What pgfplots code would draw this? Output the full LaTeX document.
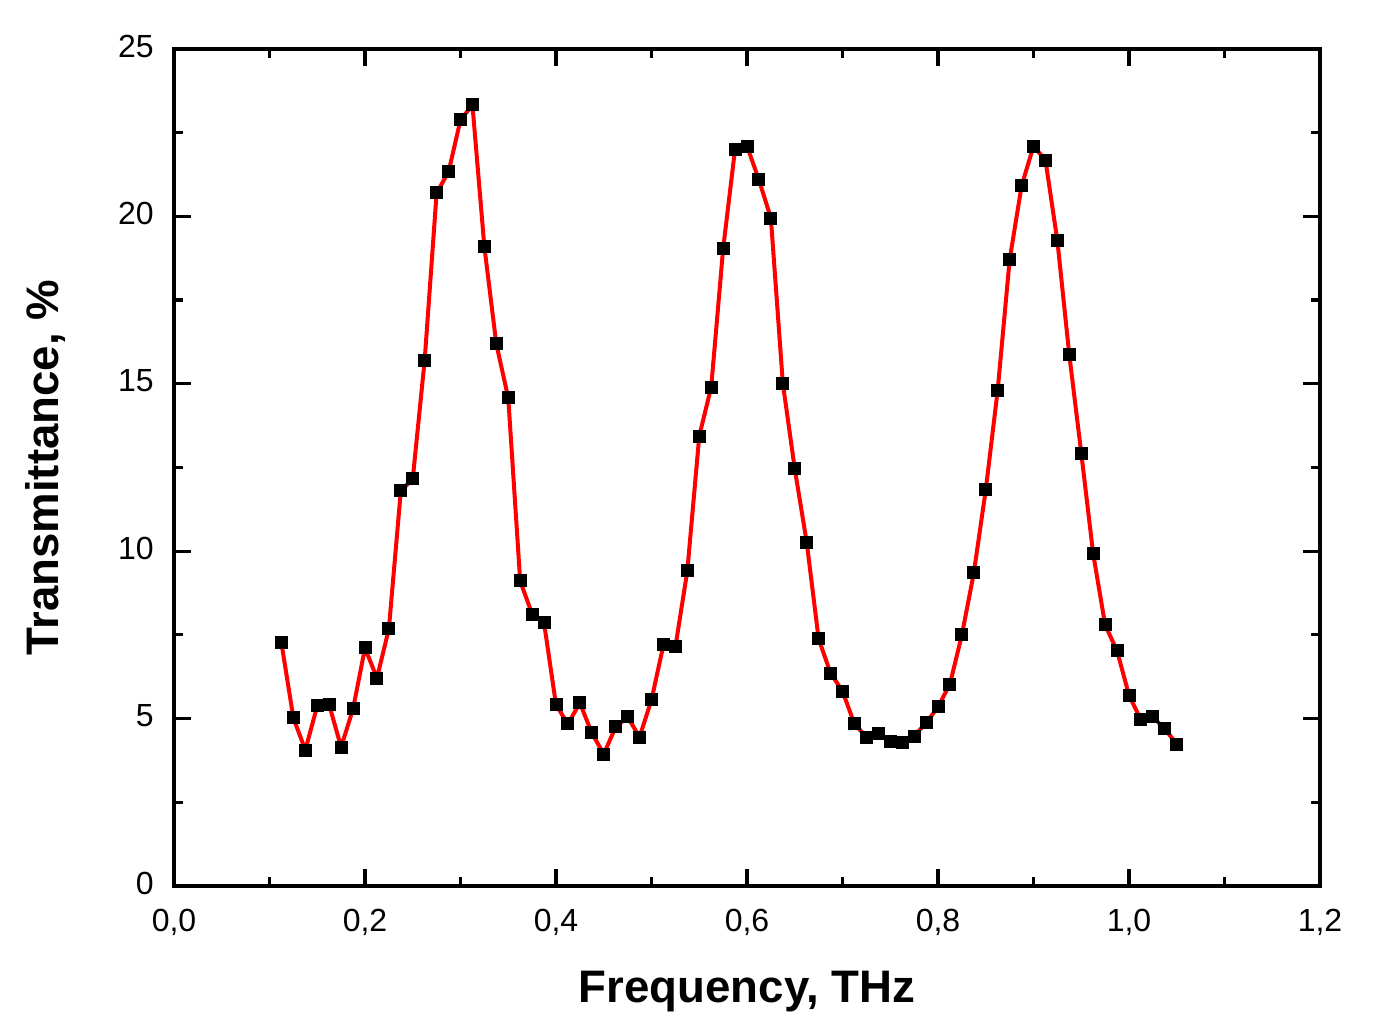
\documentclass[border=0pt]{standalone}
\usepackage{pgfplots}
\pgfplotsset{compat=1.18}
\usepackage{fontspec}
\setmainfont{Liberation Sans}
\begin{document}
\begin{tikzpicture}
\path[use as bounding box] (-87pt,-70pt) rectangle (600.5pt,443pt);
\begin{axis}[
  at={(0,0)}, anchor=south west,
  scale only axis, width=573pt, height=418.5pt,
  xmin=0, xmax=1.2, ymin=0, ymax=25,
  xtick={0,0.2,...,1.2}, ytick={0,5,...,25},
  minor x tick num=1, minor y tick num=1,
  tick align=inside,
  major tick length=8.5pt, minor tick length=4.5pt,
  every tick/.style={line width=1.6pt, black},
  axis line style={line width=1.75pt},
  /pgf/number format/assume math mode=true,
  x tick label style={/pgf/number format/use comma, /pgf/number format/fixed, /pgf/number format/fixed zerofill, /pgf/number format/precision=1},
  y tick label style={/pgf/number format/fixed, /pgf/number format/precision=0},
  every x tick label/.append style={font=\fontsize{16}{19}\selectfont, anchor=north, inner sep=0pt, yshift=-11.5pt},
  every y tick label/.append style={font=\fontsize{16}{19}\selectfont, anchor=east, inner sep=0pt, xshift=-10pt, yshift=1.5pt},
  xlabel={Frequency, THz},
  ylabel={Transmittance, \%},
  xlabel style={font=\fontsize{22.8}{27}\selectfont\bfseries, at={(axis description cs:0.5,-0.1386)}, anchor=base},
  ylabel style={font=\fontsize{22.8}{27}\selectfont\bfseries, at={(axis description cs:-0.1012,0.5)}, anchor=base},
  clip=false,
]
\addplot[red, line width=2pt, mark=square*, mark size=3pt,
  mark options={black, fill=black, solid, line width=0pt}] coordinates {
(0.1125,7.26) (0.125,5.02) (0.1375,4.06) (0.15,5.38) (0.1625,5.41)
(0.175,4.15) (0.1875,5.29) (0.2,7.11) (0.2125,6.21) (0.225,7.68)
(0.2375,11.80) (0.25,12.16) (0.2625,15.71) (0.275,20.70) (0.2875,21.33)
(0.3,22.88) (0.3125,23.33) (0.325,19.09) (0.3375,16.19) (0.35,14.58)
(0.3625,9.11) (0.375,8.12) (0.3875,7.86) (0.4,5.41) (0.4125,4.84)
(0.425,5.47) (0.4375,4.57) (0.45,3.94) (0.4625,4.75) (0.475,5.05)
(0.4875,4.45) (0.5,5.56) (0.5125,7.20) (0.525,7.14) (0.5375,9.41)
(0.55,13.44) (0.5625,14.90) (0.575,19.03) (0.5875,22.01) (0.6,22.10)
(0.6125,21.09) (0.625,19.95) (0.6375,15.02) (0.65,12.46) (0.6625,10.27)
(0.675,7.38) (0.6875,6.36) (0.7,5.82) (0.7125,4.84) (0.725,4.45)
(0.7375,4.54) (0.75,4.33) (0.7625,4.30) (0.775,4.48) (0.7875,4.87)
(0.8,5.35) (0.8125,6.03) (0.825,7.50) (0.8375,9.35) (0.85,11.83)
(0.8625,14.81) (0.875,18.70) (0.8875,20.91) (0.9,22.10) (0.9125,21.68)
(0.925,19.27) (0.9375,15.86) (0.95,12.93) (0.9625,9.92) (0.975,7.80)
(0.9875,7.02) (1.0,5.70) (1.0125,4.96) (1.025,5.05) (1.0375,4.69)
(1.05,4.24)
};
\end{axis}
\end{tikzpicture}
\end{document}
